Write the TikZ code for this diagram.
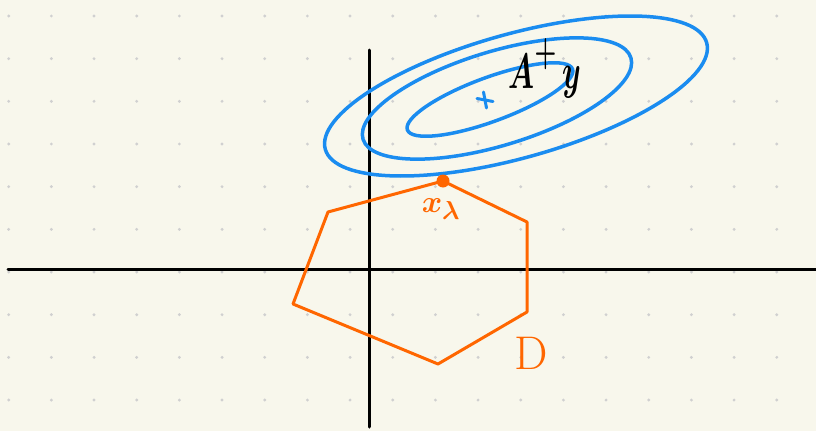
\documentclass[tikz,border=0pt]{standalone}
\usetikzlibrary{positioning}
\definecolor{paper}{RGB}{248,247,236}
\definecolor{dotgray}{RGB}{208,208,208}
\definecolor{levelblue}{RGB}{26,140,240}
\definecolor{setorange}{RGB}{255,102,0}
\tikzstyle{axis}=[line width=3pt,black,line cap=round]
\tikzstyle{level}=[line width=3.5pt,levelblue]
\tikzstyle{setline}=[line width=3pt,setorange,line join=round,line cap=round]
\tikzstyle{lbl}=[inner sep=0pt,font=\Huge\boldmath]

\begin{document}
\begin{tikzpicture}[x=1pt,y=-1pt]
\useasboundingbox (0,0) rectangle (816,431);
\fill[paper] (0,0) rectangle (816,431);
% dot grid
\foreach \i in {0,...,18}
  \foreach \j in {0,...,9}
    \fill[dotgray] (8.7+42.67*\i,16+42.67*\j) circle (1.6pt);
% axes
\coordinate (xl) at (8,269);
\coordinate (xr) at (816,269);
\coordinate (yt) at (369,50);
\coordinate (yb) at (369,427);
\draw[axis] (xl) -- (xr);
\draw[axis] (yt) -- (yb);
% level sets
\coordinate (c1) at (516,96);
\coordinate (c2) at (497,98.5);
\coordinate (c3) at (490,99.5);
\draw[level, rotate around={15.6:(c1)}] (c1) ellipse [x radius=198pt, y radius=62pt];
\draw[level, rotate around={16.9:(c2)}] (c2) ellipse [x radius=140pt, y radius=47pt];
\draw[level, rotate around={20.2:(c3)}] (c3) ellipse [x radius=88pt, y radius=22pt];
\coordinate (ctr) at (485,100);
\draw[level, line width=3pt, line cap=round] ([shift={(-8,-1.5)}]ctr) -- ([shift={(8,1.5)}]ctr);
\draw[level, line width=3pt, line cap=round] ([shift={(-1.5,-8)}]ctr) -- ([shift={(1.5,8)}]ctr);
% feasible set
\coordinate (p1) at (328,212);
\coordinate (p2) at (443,181);
\coordinate (p3) at (527,222);
\coordinate (p4) at (527,312);
\coordinate (p5) at (438,364);
\coordinate (p6) at (293,304);
\draw[setline] (p1) -- (p2) -- (p3) -- (p4) -- (p5) -- (p6) -- cycle;
\fill[setorange] (p2) circle (6.5pt);
% labels
\node[lbl, text=black, xscale=1.2, yscale=2] (ay) at (545,68) {$A^{\raisebox{3pt}{$\scriptstyle+$}}\,y$};
\node[lbl, text=setorange, scale=1.25] (xlam) at (441,209) {$x_\lambda$};
\node[lbl, text=setorange, scale=1.9] (dlab) at (531,353) {D};
\end{tikzpicture}
\end{document}
